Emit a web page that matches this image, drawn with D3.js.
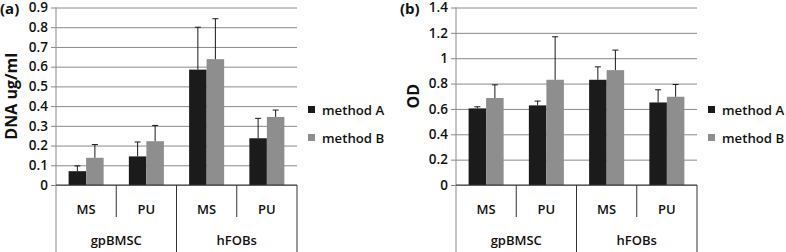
<!DOCTYPE html>
<html>
<head>
<meta charset="utf-8">
<script src="https://cdn.jsdelivr.net/npm/d3@7"></script>
<style>
  body { margin: 0; background: #fff; }
  svg text { font-family: "Open Sans", sans-serif; fill: #111; }
</style>
</head>
<body>
<div id="chart"></div>
<script>
// categories
const groups = ["gpBMSC", "hFOBs"];
const subCats = ["MS", "PU"];
const seriesNames = ["method A", "method B"];
const seriesColors = ["#1b1b1b", "#8e8e8e"];

// panel (a) DNA ug/ml
const dnaA = [0.07, 0.145, 0.585, 0.237];
const dnaAErr = [0.027, 0.073, 0.215, 0.101];
const dnaB = [0.138, 0.222, 0.638, 0.345];
const dnaBErr = [0.067, 0.080, 0.205, 0.035];
const dnaTicks = [0, 0.1, 0.2, 0.3, 0.4, 0.5, 0.6, 0.7, 0.8, 0.9];

// panel (b) OD
const odA = [0.604, 0.628, 0.83, 0.651];
const odAErr = [0.013, 0.034, 0.102, 0.10];
const odB = [0.686, 0.83, 0.906, 0.696];
const odBErr = [0.104, 0.339, 0.158, 0.097];
const odTicks = [0, 0.2, 0.4, 0.6, 0.8, 1, 1.2, 1.4];

const W = 786, H = 252;
const svg = d3.select("#chart").append("svg")
    .attr("width", W).attr("height", H);

function drawPanel(opt) {
    let left = opt.left, right = opt.right;
    let top = 7.5, bottom = 185;
    let g = svg.append("g");

    let cats = [];
    groups.forEach(gr => subCats.forEach(s => cats.push(gr + "|" + s)));

    let x0 = d3.scaleBand().domain(cats).range([left, right]).padding(0);
    let x1 = d3.scaleBand().domain(seriesNames).range([0, x0.bandwidth()])
        .paddingInner(0).paddingOuter(0.72);
    let y = d3.scaleLinear().domain([0, opt.ticks[opt.ticks.length - 1]]).range([bottom, top]);

    // gridlines
    g.append("g")
        .attr("transform", `translate(${left},0)`)
        .call(d3.axisLeft(y).tickValues(opt.ticks).tickSize(-(right - left)).tickFormat(""))
        .call(a => a.select(".domain").remove())
        .call(a => a.selectAll("line").attr("stroke", "#8a8a8a").attr("stroke-width", 1));

    // tick marks + labels
    g.append("g")
        .attr("transform", `translate(${left},0)`)
        .call(d3.axisLeft(y).tickValues(opt.ticks).tickSize(5).tickPadding(3)
            .tickFormat(d => String(+d.toFixed(1))))
        .call(a => a.select(".domain").remove())
        .call(a => a.selectAll("line").attr("stroke", "#8a8a8a"))
        .call(a => a.selectAll("text")
            .style("font-size", "13.5px").style("font-weight", 600).attr("fill", "#111"));

    // value axis line down to the bottom
    g.append("line")
        .attr("x1", left).attr("x2", left).attr("y1", top).attr("y2", H)
        .attr("stroke", "#8a8a8a");

    // bars
    let series = [opt.a, opt.b];
    let errs = [opt.aErr, opt.bErr];
    series.forEach((vals, si) => {
        let name = seriesNames[si];
        g.selectAll(null)
            .data(vals)
            .enter()
            .append("rect")
            .attr("x", (d, i) => x0(cats[i]) + x1(name))
            .attr("y", d => y(d))
            .attr("width", x1.bandwidth())
            .attr("height", d => y(0) - y(d))
            .attr("fill", seriesColors[si]);

        // error bars (plus only)
        let eg = g.selectAll(null)
            .data(vals.map((v, i) => ({ v: v, e: errs[si][i], i: i })))
            .enter()
            .append("g");
        eg.append("line")
            .attr("x1", d => x0(cats[d.i]) + x1(name) + x1.bandwidth() / 2)
            .attr("x2", d => x0(cats[d.i]) + x1(name) + x1.bandwidth() / 2)
            .attr("y1", d => y(d.v))
            .attr("y2", d => y(d.v + d.e))
            .attr("stroke", "#1a1a1a");
        eg.append("line")
            .attr("x1", d => x0(cats[d.i]) + x1(name) + x1.bandwidth() / 2 - 3)
            .attr("x2", d => x0(cats[d.i]) + x1(name) + x1.bandwidth() / 2 + 3)
            .attr("y1", d => y(d.v + d.e))
            .attr("y2", d => y(d.v + d.e))
            .attr("stroke", "#1a1a1a");
    });

    // category axis line
    g.append("line")
        .attr("x1", left).attr("x2", right).attr("y1", bottom).attr("y2", bottom)
        .attr("stroke", "#333");

    // inner dividers (between MS and PU)
    groups.forEach(gr => {
        let xd = x0(gr + "|" + subCats[1]);
        g.append("line")
            .attr("x1", xd).attr("x2", xd).attr("y1", bottom).attr("y2", 217)
            .attr("stroke", "#333");
    });
    // group dividers
    groups.forEach(gr => {
        let xd = x0(gr + "|" + subCats[subCats.length - 1]) + x0.bandwidth();
        g.append("line")
            .attr("x1", xd).attr("x2", xd).attr("y1", bottom).attr("y2", H)
            .attr("stroke", "#333");
    });

    // sub-category labels
    g.selectAll(null)
        .data(cats)
        .enter()
        .append("text")
        .attr("x", d => x0(d) + x0.bandwidth() / 2)
        .attr("y", 214)
        .attr("text-anchor", "middle")
        .style("font-size", "13px").style("font-weight", 600)
        .text(d => d.split("|")[1]);

    // group labels
    g.selectAll(null)
        .data(groups)
        .enter()
        .append("text")
        .attr("x", d => x0(d + "|" + subCats[0]) + x0.bandwidth())
        .attr("y", 245)
        .attr("text-anchor", "middle")
        .style("font-size", "13px").style("font-weight", 600)
        .text(d => d);

    // y title
    g.append("text")
        .attr("transform", `translate(${opt.titleX},${(top + bottom) / 2}) rotate(-90)`)
        .attr("text-anchor", "middle")
        .style("font-size", "16px").style("font-weight", 700)
        .text(opt.title);

    // panel letter
    g.append("text")
        .attr("x", opt.letterX).attr("y", 14)
        .style("font-size", "15px").style("font-weight", 700)
        .text(opt.letter);

    // legend
    let lg = g.append("g").attr("transform", `translate(${right + 11},0)`);
    seriesNames.forEach((s, i) => {
        lg.append("rect")
            .attr("x", 0).attr("y", 106 + i * 28)
            .attr("width", 7).attr("height", 7)
            .attr("fill", seriesColors[i]);
        lg.append("text")
            .attr("x", 14).attr("y", 115 + i * 28)
            .style("font-size", "13.2px").style("font-weight", 600)
            .text(s);
    });
}

drawPanel({
    left: 56, right: 297, ticks: dnaTicks,
    a: dnaA, aErr: dnaAErr, b: dnaB, bErr: dnaBErr,
    title: "DNA ug/ml", titleX: 17, letter: "(a)", letterX: 0
});
drawPanel({
    left: 456, right: 697, ticks: odTicks,
    a: odA, aErr: odAErr, b: odB, bErr: odBErr,
    title: "OD", titleX: 419, letter: "(b)", letterX: 400
});
</script>
</body>
</html>
